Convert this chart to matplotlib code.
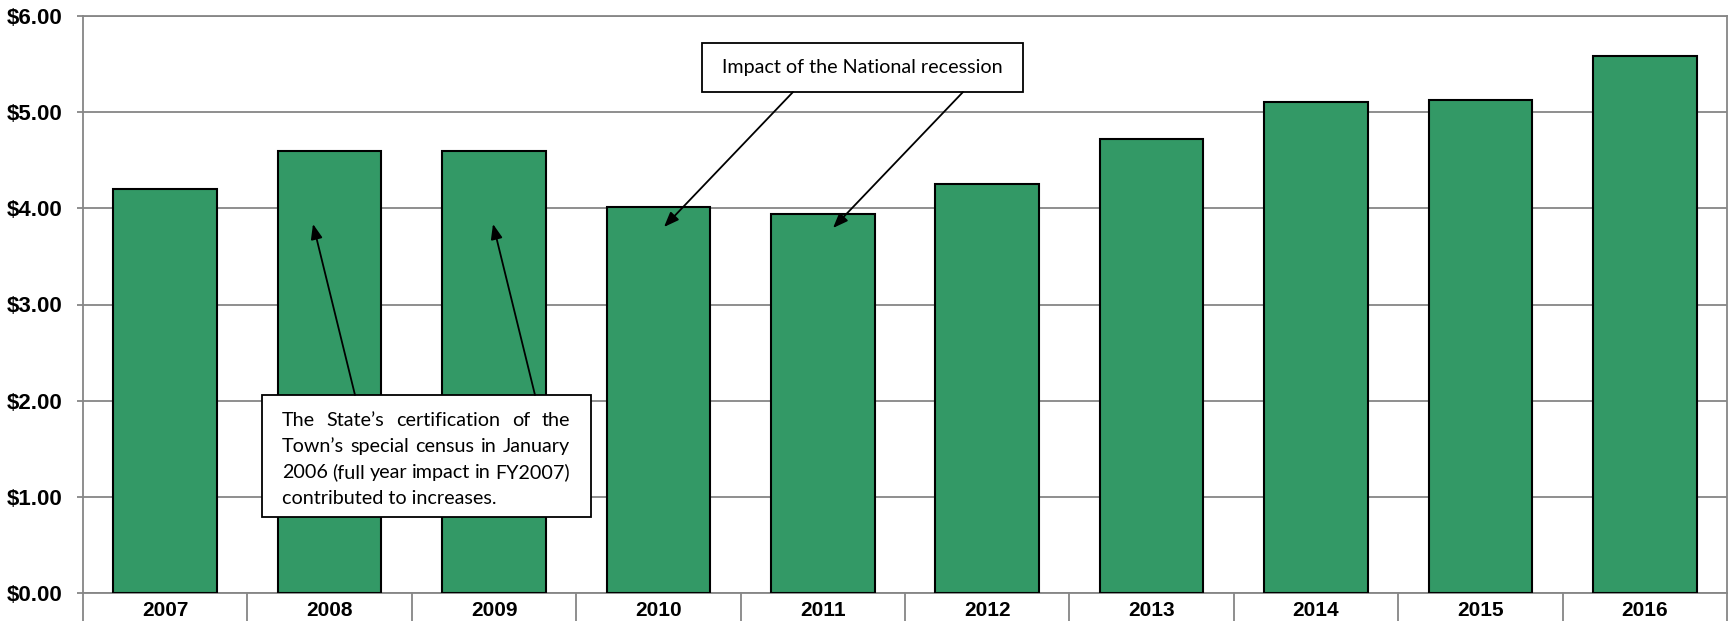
import matplotlib
matplotlib.use("Agg")
import matplotlib.pyplot as plt
from matplotlib.patches import Rectangle
from matplotlib.ticker import FixedLocator, FuncFormatter

# per capita values by fiscal year
years = ["2007", "2008", "2009", "2010", "2011", "2012", "2013", "2014", "2015", "2016"]
values = [4.20, 4.60, 4.60, 4.01, 3.94, 4.25, 4.72, 5.11, 5.13, 5.58]

census_note = ["The State\u2019s certification of the",
               "Town\u2019s special census in January",
               "2006 (full year impact in FY2007)",
               "contributed to increases."]
recession_note = "Impact of the National recession"

W, H = 1729, 621
fig = plt.figure(figsize=(W / 100, H / 100), dpi=100)
ax = fig.add_axes([83 / W, (H - 593) / H, (1727 - 83) / W, (593 - 16) / H])

grid_col = "#868686"
bar_col = "#339966"
x = list(range(len(years)))

ax.bar(x, values, width=0.63, color=bar_col, edgecolor="black", linewidth=1.5, zorder=3)

ax.set_xlim(-0.5, len(years) - 0.5)
ax.set_ylim(0, 6)
ax.set_yticks([0, 1, 2, 3, 4, 5, 6])
ax.yaxis.set_major_formatter(FuncFormatter(lambda v, p: "${:.2f}".format(v)))
ax.grid(axis="y", color=grid_col, linewidth=1.3, zorder=0)

ax.set_xticks(x)
ax.set_xticklabels(years)
ax.xaxis.set_minor_locator(FixedLocator([i - 0.5 for i in range(len(years) + 1)]))
ax.tick_params(axis="x", which="major", length=0, pad=6)
ax.tick_params(axis="x", which="minor", length=22, width=1.3, color=grid_col, direction="out")
ax.tick_params(axis="y", length=4, width=1.3, color=grid_col, pad=11)
for lab in ax.get_xticklabels() + ax.get_yticklabels():
    lab.set_fontfamily("Liberation Sans")
    lab.set_fontweight("bold")
for lab in ax.get_xticklabels():
    lab.set_fontsize(15)
for lab in ax.get_yticklabels():
    lab.set_fontsize(16)

for s in ["left", "right", "bottom", "top"]:
    ax.spines[s].set_color(grid_col)
    ax.spines[s].set_linewidth(1.3)


def px(xp, yp):
    # pixel position measured from the top-left corner -> figure fraction
    return (xp / W, (H - yp) / H)


note_font = dict(family="Lato", size=14.2, color="black")

# recession box and arrows
fig.patches.append(Rectangle(px(702, 92), 321 / W, 49 / H, transform=fig.transFigure,
                             facecolor="white", edgecolor="black", linewidth=1.3, zorder=5))
fig.text(*px(862, 67.5), recession_note, ha="center", va="center", zorder=6, **note_font)
for tail, tip in [((793, 92), (664, 227)), ((963, 92), (833, 228))]:
    fig.add_artist(plt.Annotation("", xy=px(*tip), xytext=px(*tail),
                                  xycoords="figure fraction", textcoords="figure fraction",
                                  arrowprops=dict(arrowstyle="-|>,head_length=0.9,head_width=0.35",
                                                  color="black", lw=1.3, shrinkA=0, shrinkB=0),
                                  zorder=6))

# census box and arrows
for tail, tip in [((355, 395), (313, 224)), ((535, 395), (493, 224))]:
    fig.add_artist(plt.Annotation("", xy=px(*tip), xytext=px(*tail),
                                  xycoords="figure fraction", textcoords="figure fraction",
                                  arrowprops=dict(arrowstyle="-|>,head_length=0.9,head_width=0.35",
                                                  color="black", lw=1.3, shrinkA=0, shrinkB=0),
                                  zorder=6))
fig.patches.append(Rectangle(px(262, 517), 329 / W, 122 / H, transform=fig.transFigure,
                             facecolor="white", edgecolor="black", linewidth=1.3, zorder=5))

# justified paragraph inside the census box
renderer = fig.canvas.get_renderer()
left, right = 282, 570
line_y = [420, 446.5, 472.5, 498.5]
for i, line in enumerate(census_note):
    words = line.split(" ")
    if i == len(census_note) - 1:
        fig.text(*px(left, line_y[i]), line, ha="left", va="center", zorder=6, **note_font)
        continue
    widths = []
    for w in words:
        t = fig.text(0, 0, w, **note_font)
        widths.append(t.get_window_extent(renderer).width)
        t.remove()
    gap = (right - left - sum(widths)) / (len(words) - 1)
    cur = left
    for w, wd in zip(words, widths):
        fig.text(*px(cur, line_y[i]), w, ha="left", va="center", zorder=6, **note_font)
        cur += wd + gap

fig.savefig("out.png", dpi=100)
